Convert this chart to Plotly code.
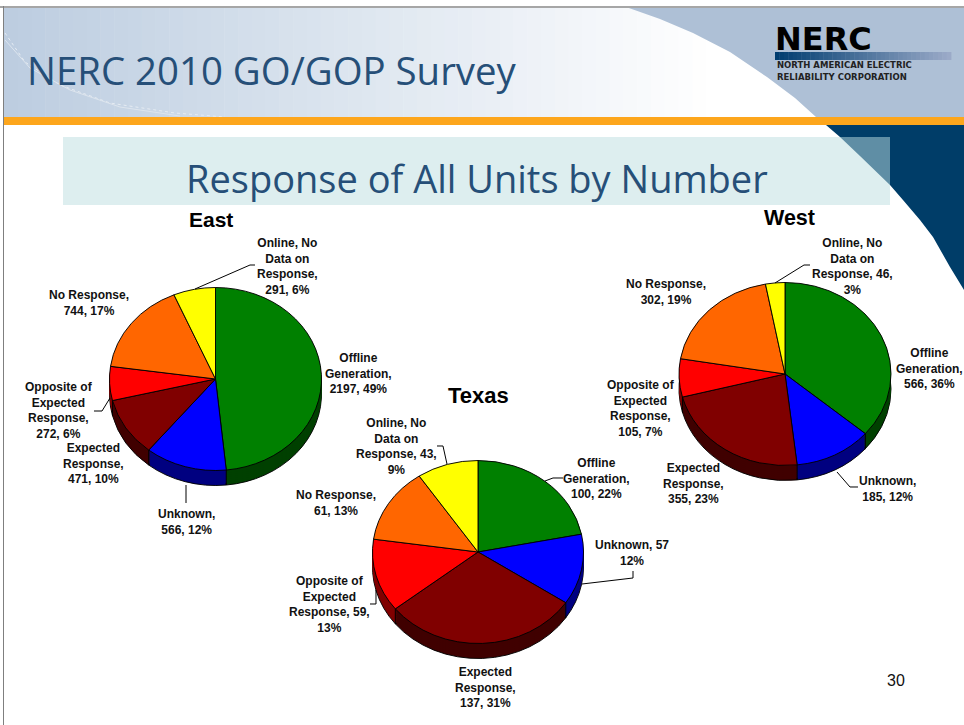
import math
import plotly.graph_objects as go

W, H = 964, 725

# ---------- data ----------
categories = ["Offline Generation", "Unknown", "Expected Response",
              "Opposite of Expected Response", "No Response", "Online, No Data on Response"]
east_values = [2197, 566, 471, 272, 744, 291]
texas_values = [100, 57, 137, 59, 61, 43]
west_values = [566, 185, 355, 105, 302, 46]
top_colors = ["#008000", "#0000FF", "#800000", "#FF0000", "#FF6600", "#FFFF00"]
side_colors = ["#004000", "#000080", "#400000", "#800000", "#803300", "#808000"]

east_labels = ["Offline<br>Generation,<br>2197, 49%", "Unknown,<br>566, 12%", "Expected<br>Response,<br>471, 10%",
               "Opposite of<br>Expected<br>Response,<br>272, 6%", "No Response,<br>744, 17%",
               "Online, No<br>Data on<br>Response,<br>291, 6%"]
texas_labels = ["Offline<br>Generation,<br>100, 22%", "Unknown, 57<br>12%", "Expected<br>Response,<br>137, 31%",
                "Opposite of<br>Expected<br>Response, 59,<br>13%", "No Response,<br>61, 13%",
                "Online, No<br>Data on<br>Response, 43,<br>9%"]
west_labels = ["Offline<br>Generation,<br>566, 36%", "Unknown,<br>185, 12%", "Expected<br>Response,<br>355, 23%",
               "Opposite of<br>Expected<br>Response,<br>105, 7%", "No Response,<br>302, 19%",
               "Online, No<br>Data on<br>Response, 46,<br>3%"]

# ---------- layout (pixels) ----------
DEPTH = 15
pies = [
    dict(name="East", values=east_values, labels=east_labels, cx=215.5, cy=379, rx=106, ry=91.5,
         title=(211, 220, 21),
         pos=[(358, 373), (186, 522), (93, 463), (59, 411), (89, 303), (287, 266)],
         leaders=[[(195, 289), (250, 265), (255, 265)], [(110, 398), (102, 411), (94, 411)],
                  [(186, 485), (186, 503)]]),
    dict(name="Texas", values=texas_values, labels=texas_labels, cx=478, cy=552, rx=105.5, ry=91.5,
         title=(478, 395, 22),
         pos=[(596, 478), (632, 553), (485, 687), (329, 604), (336, 503), (396, 446)],
         leaders=[[(545, 481), (553, 478), (563, 478)], [(582, 584), (633, 578), (633, 571)],
                  [(376, 590), (376, 604), (370, 604)], [(447, 464), (443, 446), (437, 446)]]),
    dict(name="West", values=west_values, labels=west_labels, cx=785, cy=374, rx=106, ry=91.5,
         title=(789, 218, 21.5),
         pos=[(929, 368), (887, 489), (693, 483), (641, 408), (666, 292), (852, 266)],
         leaders=[[(775, 283), (804, 265), (810, 265)], [(837, 472), (850, 487), (858, 487)]]),
]


def fx(x):
    return x / W


def fy(y):
    return 1 - y / H


shapes = []


def rect(x0, y0, x1, y1, color):
    shapes.append(dict(type="rect", xref="paper", yref="paper", x0=fx(x0), x1=fx(x1), y0=fy(y0), y1=fy(y1),
                       fillcolor=color, line_width=0, layer="below"))


def path(points, fill=None, line=None, width=1, dash=None):
    d = "M " + " L ".join(f"{fx(x):.5f},{fy(y):.5f}" for x, y in points)
    if fill:
        d += " Z"
    s = dict(type="path", xref="paper", yref="paper", path=d, layer="below",
             fillcolor=fill if fill else "rgba(0,0,0,0)",
             line=dict(color=line if line else "rgba(0,0,0,0)", width=width if line else 0))
    if dash:
        s["line"]["dash"] = dash
    shapes.append(s)


def lerp(c0, c1, t):
    return "rgb(" + ",".join(str(round(a + (b - a) * t)) for a, b in zip(c0, c1)) + ")"


# header gradient
STEPS = 60
for i in range(STEPS):
    x0 = 4 + i * (830 - 4) / STEPS
    x1 = 4 + (i + 1) * (830 - 4) / STEPS + 0.5
    t = min(1, (i + 0.5) / STEPS / 0.86)
    rect(x0, 7, x1, 117, lerp((188, 205, 224), (255, 255, 255), t))
# right header swoosh
path([(626, 7), (660, 19), (693, 33), (730, 52), (767, 77), (795, 98), (816, 117), (964, 117), (964, 7)],
     fill="#AEC0D6")
# frame
rect(0, 6, 964, 8, "#A6A6A6")
rect(3, 6, 4, 725, "#7F7F7F")
# swoosh lines
path([(5, 33), (25, 62), (60, 85), (110, 103), (175, 113), (225, 117)], line="#E6ECF3", width=1, dash="dot")
path([(5, 40), (30, 68), (70, 90), (120, 107), (180, 116)], line="#DDE5EE", width=1)
# orange band
rect(4, 117, 964, 125, "#FDA61C")
# navy corner
path([(826, 125), (840, 137), (860, 156), (890, 185), (903, 200), (920, 220), (933, 237), (950, 267), (964, 290),
      (964, 125)], fill="#003D68")
# title box, with the hatched overlap where it crosses the navy corner
rect(63, 137, 890, 205, "#DDEEEF")
path([(840, 137), (860, 156), (890, 185), (890, 137)], fill="#5F8EA5")
# logo bar
for i in range(40):
    x0 = 775 + i * (951 - 775) / 40
    rect(x0, 52, x0 + (951 - 775) / 40 + 0.4, 60, lerp((0, 61, 112), (155, 170, 200), i / 39))

annotations = []


def text(x, y, s, size, color="#111111", bold=False, family="Liberation Sans", anchor="center"):
    annotations.append(dict(xref="paper", yref="paper", x=fx(x), y=fy(y), text=f"<b>{s}</b>" if bold else s,
                            showarrow=False, xanchor=anchor, yanchor="middle", align="center",
                            font=dict(size=size, color=color, family=family)))


text(25, 70, "NERC 2010 GO/GOP Survey", 38.4, "#264F78", family="Open Sans", anchor="left")
text(477, 178, "Response of All Units by Number", 38, "#264F78", family="Open Sans")
text(896, 680, "30", 16, "#111111")
text(773, 39, "NERC", 32, "#000000", bold=True, family="DejaVu Sans", anchor="left")
text(775, 65, "NORTH AMERICAN ELECTRIC", 8.5, "#222222", bold=True, family="DejaVu Sans", anchor="left")
text(775, 76.5, "RELIABILITY CORPORATION", 8.5, "#222222", bold=True, family="DejaVu Sans", anchor="left")

traces = []
trace_centers = []


def pie_trace(p, off, colors, line_color=None):
    r = p["rx"]
    cy = p["cy"] + off
    trace_centers.append([cy, p["ry"] / p["rx"]])
    return go.Pie(values=p["values"], labels=categories, sort=False, direction="clockwise", rotation=0,
                  domain=dict(x=[fx(p["cx"] - r), fx(p["cx"] + r)], y=[fy(cy + r), fy(cy - r)]),
                  marker=dict(colors=colors, line=dict(color=line_color or "rgba(0,0,0,0)",
                                                       width=1 if line_color else 0)),
                  textinfo="none", showlegend=False, name=p["name"])


for p in pies:
    traces.append(pie_trace(p, DEPTH, side_colors, "#000000"))
    for off in range(DEPTH - 2, 0, -2):
        traces.append(pie_trace(p, off, side_colors))
    traces.append(pie_trace(p, 0, top_colors, "#000000"))

    # vertical edges of the extruded side, from the slice boundaries
    total = sum(p["values"])
    acc = 0
    for v in p["values"]:
        acc += v
        a = 2 * math.pi * acc / total
        if math.cos(a) < 0.05:
            x = p["cx"] + p["rx"] * math.sin(a)
            y = p["cy"] - p["ry"] * math.cos(a)
            shapes.append(dict(type="line", xref="paper", yref="paper", x0=fx(x), x1=fx(x), y0=fy(y),
                               y1=fy(y + DEPTH), line=dict(color="#000000", width=1), layer="above"))
    for lab, (x, y) in zip(p["labels"], p["pos"]):
        text(x, y, lab, 12, bold=True)
    tx, ty, ts = p["title"]
    text(tx, ty, p["name"], ts, "#000000", bold=True)
    for seg in p["leaders"]:
        d = "M " + " L ".join(f"{fx(a):.5f},{fy(b):.5f}" for a, b in seg)
        shapes.append(dict(type="path", xref="paper", yref="paper", path=d, layer="above",
                           line=dict(color="#000000", width=1), fillcolor="rgba(0,0,0,0)"))

fig = go.Figure(traces)
fig.update_layout(width=W, height=H, margin=dict(l=0, r=0, t=0, b=0), paper_bgcolor="#FFFFFF",
                  shapes=shapes, annotations=annotations, hovermode=False)

post = """
document.body.style.margin = '0';
var gd = document.getElementById('{plot_id}');
var tilt = %s;
gd.querySelectorAll('.pielayer .trace').forEach(function (g, i) {
  var c = tilt[i];
  g.setAttribute('transform', 'matrix(1,0,0,' + c[1] + ',0,' + (c[0] * (1 - c[1])) + ')');
});
""" % trace_centers

fig.write_html("out.html", post_script=post, config={"displayModeBar": False})
